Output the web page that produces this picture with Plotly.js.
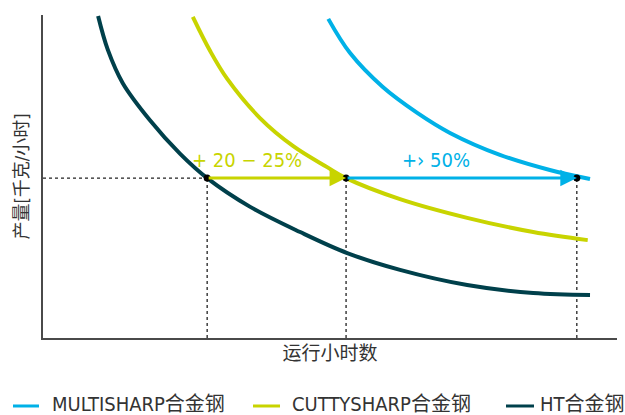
<!DOCTYPE html>
<html>
<head>
<meta charset="utf-8">
<script src="https://cdn.plot.ly/plotly-3.0.1.min.js"></script>
<style>html,body{margin:0;padding:0;background:#fff;}#chart{width:625px;height:415px;}</style>
</head>
<body>
<div id="chart"></div>
<script>
// Relative scales (0-100)
var seriesNames = ["MULTISHARP合金钢", "CUTTYSHARP合金钢", "HT合金钢"];
var colors = ["#00b1e7", "#c8d400", "#00404b"];

var multiX = [49.7, 53.5, 59.2, 65.2, 70.9, 79.6, 88.3, 95.3];
var multiY = [98.8, 88.2, 77.7, 69.7, 63.5, 56.7, 52.0, 49.2];

var cuttyX = [26.1, 29.1, 32.1, 37.8, 43.6, 49.5, 52.8, 62.2, 73.9, 85.4, 94.9];
var cuttyY = [99.4, 88.9, 80.2, 68.1, 59.4, 52.9, 49.5, 43.0, 37.2, 32.8, 30.3];

var htX = [9.6, 11.3, 13.9, 18.6, 23.9, 28.6, 36.1, 44.8, 53.0, 62.2, 73.9, 85.4, 95.3];
var htY = [99.7, 89.2, 78.9, 67.5, 57.0, 49.5, 40.6, 32.8, 26.3, 21.1, 16.4, 13.9, 13.3];

// reference level and marked operating points
var refLevel = 49.5;
var markX = [28.6, 52.8, 93.0];
var gainLabels = ["+ 20 − 25%", "+› 50%"];
var gainLabelX = [35.5, 68.5];
var gainLabelY = 55.0;

var font = '"Liberation Sans Narrow", "DejaVu Sans Condensed", "Noto Sans CJK SC", sans-serif';

var traces = [
  {x: multiX, y: multiY, name: seriesNames[0], mode: 'lines', line: {color: colors[0], width: 4, shape: 'spline'}},
  {x: cuttyX, y: cuttyY, name: seriesNames[1], mode: 'lines', line: {color: colors[1], width: 4, shape: 'spline'}},
  {x: htX, y: htY, name: seriesNames[2], mode: 'lines', line: {color: colors[2], width: 4, shape: 'spline'}},
  {x: markX, y: markX.map(function(){return refLevel;}), mode: 'markers', marker: {color: '#000', size: 7}, showlegend: false, hoverinfo: 'skip'}
];

var shapes = [
  {type: 'line', xref: 'x', yref: 'y', x0: 0, x1: markX[0], y0: refLevel, y1: refLevel, line: {color: '#222', width: 1.3, dash: 'dot'}, layer: 'below'}
];
markX.forEach(function(mx){
  shapes.push({type: 'line', xref: 'x', yref: 'y', x0: mx, x1: mx, y0: 0, y1: refLevel, line: {color: '#222', width: 1.3, dash: 'dot'}, layer: 'below'});
});

var annotations = [
  {x: markX[1], y: refLevel, ax: markX[0], ay: refLevel, xref: 'x', yref: 'y', axref: 'x', ayref: 'y', text: '', showarrow: true, arrowhead: 2, arrowsize: 1.1, arrowwidth: 3, arrowcolor: colors[1], standoff: 0},
  {x: markX[2], y: refLevel, ax: markX[1], ay: refLevel, xref: 'x', yref: 'y', axref: 'x', ayref: 'y', text: '', showarrow: true, arrowhead: 2, arrowsize: 1.1, arrowwidth: 3, arrowcolor: colors[0], standoff: 0},
  {x: gainLabelX[0], y: gainLabelY, xref: 'x', yref: 'y', text: gainLabels[0], showarrow: false, font: {family: font, size: 20, color: colors[1]}},
  {x: gainLabelX[1], y: gainLabelY, xref: 'x', yref: 'y', text: gainLabels[1], showarrow: false, font: {family: font, size: 20, color: colors[0]}}
];

// Hand-drawn legend below the plot (paper coordinates)
var legendDashX = [[-0.0523, -0.007], [0.3659, 0.4129], [0.8066, 0.8554]];
var legendTextX = [0.0122, 0.4303, 0.8624];
seriesNames.forEach(function(name, i){
  shapes.push({type: 'line', xref: 'paper', yref: 'paper', x0: legendDashX[i][0], x1: legendDashX[i][1], y0: -0.2105, y1: -0.2105, line: {color: colors[i], width: 3}});
  annotations.push({xref: 'paper', yref: 'paper', x: legendTextX[i], y: -0.2043, xanchor: 'left', yanchor: 'middle', text: name, showarrow: false, font: {family: font, size: 20, color: '#333'}});
});

var layout = {
  width: 625, height: 415,
  margin: {l: 43, r: 8, t: 15, b: 77, pad: 0},
  paper_bgcolor: '#fff', plot_bgcolor: '#fff',
  font: {family: font, size: 19, color: '#333'},
  xaxis: {range: [0, 100], showgrid: false, zeroline: false, showticklabels: false, ticks: '', automargin: false,
          showline: true, linecolor: '#4a4a4a', linewidth: 2,
          title: {text: '运行小时数', font: {family: font, size: 19, color: '#333'}, standoff: 8}},
  yaxis: {range: [0, 100], showgrid: false, zeroline: false, showticklabels: false, ticks: '', automargin: false,
          showline: true, linecolor: '#4a4a4a', linewidth: 2,
          title: {text: '产量[千克/小时]', font: {family: font, size: 18, color: '#333'}, standoff: 8}},
  showlegend: false,
  shapes: shapes,
  annotations: annotations
};

Plotly.newPlot('chart', traces, layout, {displayModeBar: false, staticPlot: true});
</script>
</body>
</html>
